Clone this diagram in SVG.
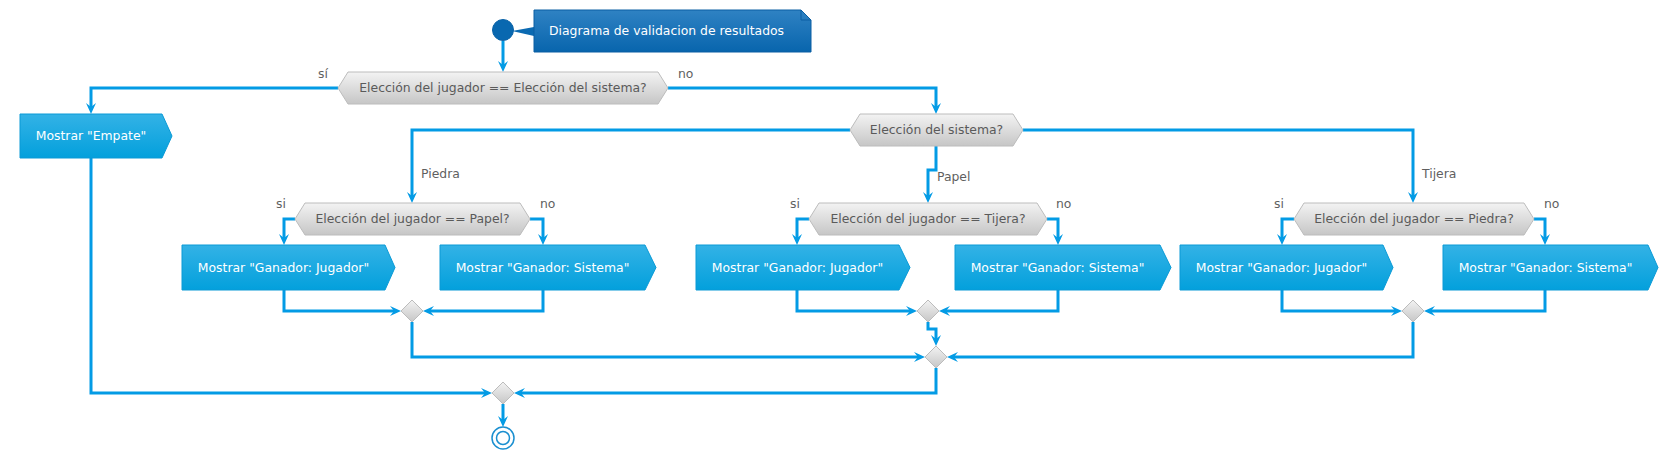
<svg xmlns="http://www.w3.org/2000/svg" width="1680" height="459" viewBox="0 0 1680 459">
<defs>
<linearGradient id="gAct" x1="0" y1="0" x2="0" y2="1"><stop offset="0" stop-color="#33b2e6"/><stop offset="1" stop-color="#03a0dc"/></linearGradient>
<linearGradient id="gDec" x1="0" y1="0" x2="0" y2="1"><stop offset="0" stop-color="#f3f3f3"/><stop offset="1" stop-color="#c6c6c6"/></linearGradient>
<linearGradient id="gNote" x1="0" y1="0" x2="0" y2="1"><stop offset="0" stop-color="#2f82c3"/><stop offset="1" stop-color="#0865ad"/></linearGradient>
<marker id="ah" viewBox="0 0 12 10" refX="4" refY="5" markerWidth="12" markerHeight="10" orient="auto" markerUnits="userSpaceOnUse"><path d="M0,0 L11,5 L0,10 L4,5 Z" fill="#039be5"/></marker>
</defs>
<style>
text{font-family:"DejaVu Sans","Liberation Sans",sans-serif;font-size:12.4px}
.act{fill:url(#gAct);stroke:#0a9ad6;stroke-width:1}
.act-t{fill:#ffffff;text-anchor:middle}
.dec{fill:url(#gDec);stroke:#bcbcbc;stroke-width:1}
.dec-t{fill:#5a5a5a;text-anchor:middle}
.lbl{fill:#5f5f5f}
.lbl-e{fill:#5f5f5f;text-anchor:end}
.c{fill:none;stroke:#039be5;stroke-width:3;marker-end:url(#ah)}
</style>
<rect width="1680" height="459" fill="#ffffff"/>

<g id="connectors">
<path class="c" d="M503,41 V65"/>
<path class="c" d="M338,88 H91 V107"/>
<path class="c" d="M668,88 H936 V107"/>
<path class="c" d="M91,158 V393 H485"/>
<path class="c" d="M850,130 H412 V196"/>
<path class="c" d="M936,146 V170 H928 V196"/>
<path class="c" d="M1023,130 H1413 V196"/>
<path class="c" d="M295,219 H284 V238"/>
<path class="c" d="M530,219 H543 V238"/>
<path class="c" d="M809,219 H797 V238"/>
<path class="c" d="M1047,219 H1058 V238"/>
<path class="c" d="M1294,219 H1282 V238"/>
<path class="c" d="M1534,219 H1545 V238"/>
<path class="c" d="M284,290 V311 H394"/>
<path class="c" d="M543,290 V311 H430"/>
<path class="c" d="M797,290 V311 H910"/>
<path class="c" d="M1058,290 V311 H946"/>
<path class="c" d="M1282,290 V311 H1395"/>
<path class="c" d="M1545,290 V311 H1431"/>
<path class="c" d="M412,322 V357 H918"/>
<path class="c" d="M928,322 V329 H936 V339"/>
<path class="c" d="M1413,322 V357 H954"/>
<path class="c" d="M936,368 V393 H521"/>
<path class="c" d="M503,404 V420"/>
<text class="lbl-e" x="328" y="78">sí</text>
<text class="lbl" x="678" y="78">no</text>
<text class="lbl" x="421" y="178">Piedra</text>
<text class="lbl" x="937" y="181">Papel</text>
<text class="lbl" x="1422" y="178">Tijera</text>
<text class="lbl-e" x="286" y="208">si</text>
<text class="lbl" x="540" y="208">no</text>
<text class="lbl-e" x="800" y="208">si</text>
<text class="lbl" x="1056" y="208">no</text>
<text class="lbl-e" x="1284" y="208">si</text>
<text class="lbl" x="1544" y="208">no</text>
</g>

<g id="start"><circle cx="503" cy="30" r="10.5" fill="#0968b0" stroke="#0a63a8" stroke-width="1"/></g>

<g id="note">
<path d="M512,31 L534,27 L534,36 Z" fill="#0b6ab2"/>
<path d="M534,10 H801 L811,20 V52 H534 Z" fill="url(#gNote)" stroke="#0a5fa3" stroke-width="1"/>
<path d="M801,10 V20 H811" fill="none" stroke="#0a5fa3" stroke-width="1"/>
<text x="549" y="35" fill="#ffffff">Diagrama de validacion de resultados</text>
</g>

<g id="dec-main">
<polygon class="dec" points="338,88 348,72 658,72 668,88 658,104 348,104"/>
<text class="dec-t" x="503" y="92">Elección del jugador == Elección del sistema?</text>
</g>

<g id="act-empate">
<polygon class="act" points="20,114 162,114 172,136 162,158 20,158"/>
<text class="act-t" x="91" y="140">Mostrar "Empate"</text>
</g>

<g id="dec-sistema">
<polygon class="dec" points="850,130 860,114 1013,114 1023,130 1013,146 860,146"/>
<text class="dec-t" x="936.5" y="134">Elección del sistema?</text>
</g>

<g id="dec-papel">
<polygon class="dec" points="295,219 305,203 520,203 530,219 520,235 305,235"/>
<text class="dec-t" x="412.5" y="223">Elección del jugador == Papel?</text>
</g>
<g id="dec-tijera">
<polygon class="dec" points="809,219 819,203 1037,203 1047,219 1037,235 819,235"/>
<text class="dec-t" x="928" y="223">Elección del jugador == Tijera?</text>
</g>
<g id="dec-piedra">
<polygon class="dec" points="1294,219 1304,203 1524,203 1534,219 1524,235 1304,235"/>
<text class="dec-t" x="1414" y="223">Elección del jugador == Piedra?</text>
</g>

<g id="act-p-jugador">
<polygon class="act" points="182,245 385,245 395,267.5 385,290 182,290"/>
<text class="act-t" x="283.5" y="272">Mostrar "Ganador: Jugador"</text>
</g>
<g id="act-p-sistema">
<polygon class="act" points="440,245 645,245 656,267.5 645,290 440,290"/>
<text class="act-t" x="542.5" y="272">Mostrar "Ganador: Sistema"</text>
</g>
<g id="act-pa-jugador">
<polygon class="act" points="696,245 899,245 910,267.5 899,290 696,290"/>
<text class="act-t" x="797.5" y="272">Mostrar "Ganador: Jugador"</text>
</g>
<g id="act-pa-sistema">
<polygon class="act" points="955,245 1160,245 1171,267.5 1160,290 955,290"/>
<text class="act-t" x="1057.5" y="272">Mostrar "Ganador: Sistema"</text>
</g>
<g id="act-t-jugador">
<polygon class="act" points="1180,245 1383,245 1393,267.5 1383,290 1180,290"/>
<text class="act-t" x="1281.5" y="272">Mostrar "Ganador: Jugador"</text>
</g>
<g id="act-t-sistema">
<polygon class="act" points="1443,245 1648,245 1658,267.5 1648,290 1443,290"/>
<text class="act-t" x="1545.5" y="272">Mostrar "Ganador: Sistema"</text>
</g>

<g id="merge-piedra"><polygon class="dec" points="412,300 423,311 412,322 401,311"/></g>
<g id="merge-papel"><polygon class="dec" points="928,300 939,311 928,322 917,311"/></g>
<g id="merge-tijera"><polygon class="dec" points="1413,300 1424,311 1413,322 1402,311"/></g>
<g id="merge-sistema"><polygon class="dec" points="936,346 947,357 936,368 925,357"/></g>
<g id="merge-final"><polygon class="dec" points="503,382 514,393 503,404 492,393"/></g>

<g id="end">
<circle cx="503" cy="438" r="11" fill="#ffffff" stroke="#1a8fd0" stroke-width="1.5"/>
<circle cx="503" cy="438" r="6.5" fill="#ffffff" stroke="#1a8fd0" stroke-width="1.5"/>
</g>
</svg>
